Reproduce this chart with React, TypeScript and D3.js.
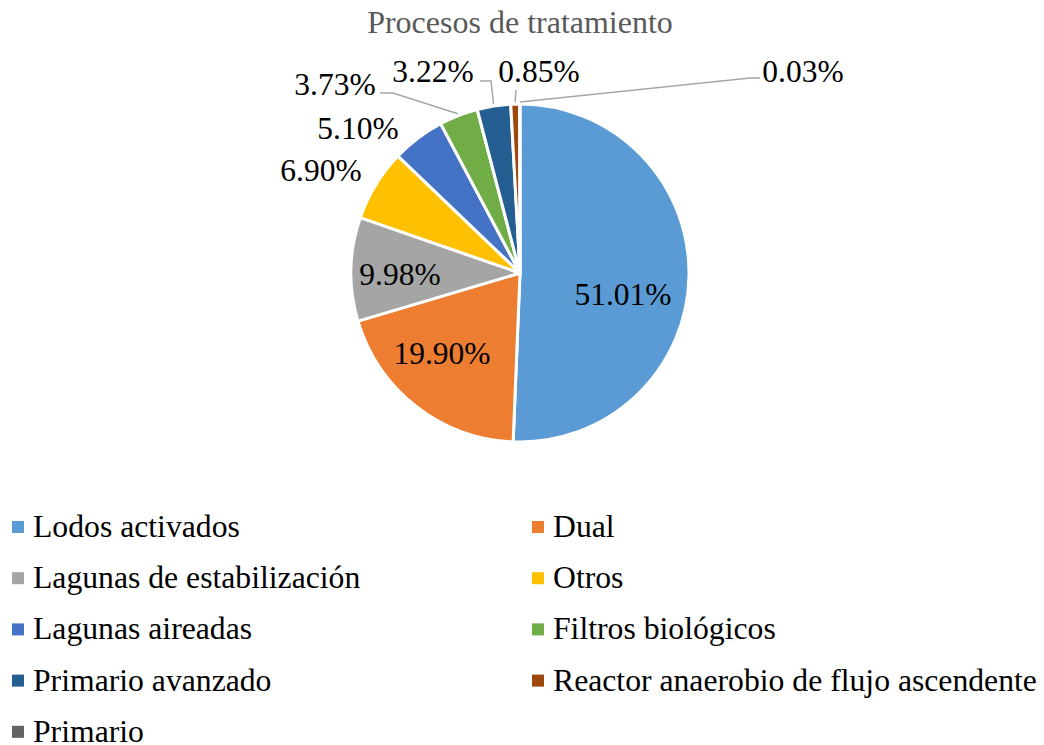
import React from 'react';
import * as d3 from 'd3';

const categories = [
  'Lodos activados',
  'Dual',
  'Lagunas de estabilización',
  'Otros',
  'Lagunas aireadas',
  'Filtros biológicos',
  'Primario avanzado',
  'Reactor anaerobio de flujo ascendente',
  'Primario',
];
const values = [51.01, 19.9, 9.98, 6.9, 5.1, 3.73, 3.22, 0.85, 0.03];
const colors = ['#5B9BD5', '#ED7D31', '#A5A5A5', '#FFC000', '#4472C4', '#70AD47', '#255E91', '#9E480E', '#636363'];

// where each data label sits (text centre x, baseline y), and leader elbows
const labelPos: [number, number][] = [
  [623, 305], [442, 364], [400, 285], [321, 181], [358, 139], [335, 95], [433, 82], [539, 82], [803, 82],
];
const leaders: ([number, number][] | null)[] = [
  null, null, null, null, null,
  [[393, 93], [380, 93]],
  [[491, 81], [480, 81]],
  [[516, 90]],
  [[750, 78], [760, 78]],
];

const W = 1044;
const H = 745;
const cx = 520;
const cy = 273;
const R = 169;
const font = "'Liberation Serif', 'Times New Roman', serif";

export default function App() {
  const pie = d3.pie<number>().sort(null).value(d => d);
  const arcs = pie(values);
  const arc = d3.arc<d3.PieArcDatum<number>>().innerRadius(0).outerRadius(R);
  const line = d3.line();

  return (
    <div style={{ position: 'absolute', left: 0, top: 0 }}>
      <svg width={W} height={H} style={{ display: 'block', fontFamily: font }}>
        <rect width={W} height={H} fill="#fff" />
        <text x={520} y={33} textAnchor="middle" style={{ fontFamily: font, fontSize: 32 }} fill="#595959">
          Procesos de tratamiento
        </text>
        <g transform={`translate(${cx},${cy})`}>
          {arcs.map((a, i) => (
            <path key={i} d={arc(a) || ''} fill={colors[i]} stroke="#fff" strokeWidth={3} strokeLinejoin="round" />
          ))}
        </g>
        {arcs.map((a, i) => {
          const pts = leaders[i];
          if (!pts) return null;
          const mid = (a.startAngle + a.endAngle) / 2;
          const start: [number, number] = [cx + (R + 2) * Math.sin(mid), cy - (R + 2) * Math.cos(mid)];
          return (
            <path key={i} d={line([start, ...pts]) || ''} fill="none" stroke="#A6A6A6" strokeWidth={1.5} />
          );
        })}
        {values.map((v, i) => (
          <text key={i} x={labelPos[i][0]} y={labelPos[i][1]} textAnchor="middle" style={{ fontFamily: font, fontSize: 31.5 }} fill="#000">
            {v.toFixed(2)}%
          </text>
        ))}
        {categories.map((c, i) => {
          const col = i % 2;
          const row = Math.floor(i / 2);
          const x = col === 0 ? 12 : 532;
          const y = 527 + row * 51.2;
          return (
            <g key={c}>
              <rect x={x} y={y - 6} width={12} height={12} fill={colors[i]} />
              <text x={x + 21} y={y + 10} style={{ fontFamily: font, fontSize: 31.7 }} fill="#000">
                {c}
              </text>
            </g>
          );
        })}
      </svg>
    </div>
  );
}
